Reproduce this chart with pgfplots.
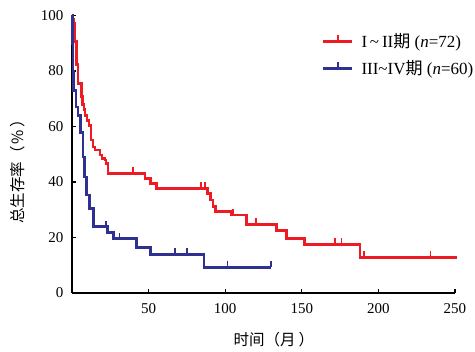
\documentclass[border=0pt]{standalone}
\usepackage{fontspec}
\setmainfont{Liberation Serif}
\newfontfamily\cjk{Noto Sans CJK SC}
\usepackage{pgfplots}
\pgfplotsset{compat=1.18}
\definecolor{kmred}{HTML}{ED1C24}
\definecolor{kmblue}{HTML}{2E3192}
\pgfdeclareplotmark{cens}{\pgfpathmoveto{\pgfqpoint{0pt}{0pt}}\pgfpathlineto{\pgfqpoint{0pt}{6pt}}\pgfusepathqstroke}
\begin{document}
\begin{tikzpicture}
\useasboundingbox (-72pt,-59pt) rectangle (403pt,293pt);
\begin{axis}[
  scale only axis, width=383pt, height=277.5pt,
  xmin=0, xmax=250, ymin=0, ymax=100,
  axis lines*=left,
  xtick={50,100,...,250}, ytick={0,20,...,100},
  tick align=inside, major tick length=4pt,
  every tick/.style={black, line width=1.2pt},
  axis line style={line width=1.3pt, black},
  tick label style={font=\fontsize{15}{15}\selectfont},
  xticklabel style={yshift=-7pt},
  yticklabel style={xshift=-5pt},
  /pgf/number format/assume math mode=true,
  xlabel={\cjk 时间（月\hspace{3pt}）},
  ylabel={\cjk 总生存率（\hspace{2pt}\%\hspace{2pt}）},
  label style={font=\fontsize{15.5}{15.5}\selectfont},
  xlabel style={at={(axis description cs:0.527,-0.169)}, anchor=center},
  ylabel style={at={(axis description cs:-0.141,0.45)}, anchor=center},
  clip=false,
  legend style={draw=none, fill=none, at={(axis description cs:0.652,0.943)}, anchor=north west,
    font=\fontsize{17}{17}\selectfont, row sep=7.5pt, inner sep=0pt},
  legend cell align=left,
]
\addplot[kmred, line width=2.8pt, const plot, forget plot] coordinates {
(0,100) (0.5,98.6) (1,97.2) (1.4,94.4) (1.8,90.6) (2.8,82.2) (3.9,75.6) (6.0,70.7) (7.0,68) (7.8,66)
(8.5,64.1) (9.8,62.3) (11.1,60.5) (12.4,55.1) (13.7,52.6) (15,51.5) (18.3,49.7) (19.6,48.6) (21.5,47.9)
(22.2,46.8) (23.5,43.1) (47.6,41.3) (51.5,39.5) (55,37.7) (88.5,35.9) (90.5,33.5) (92,31.1) (93.5,29.3)
(104.2,28.1) (114,24.7) (133.6,22.5) (140,19.7) (152,17.5) (188,12.9) (251,12.9)
};
\addplot[kmred, only marks, mark=cens, mark options={line width=1.6pt}, forget plot] coordinates {
(40,43.1) (84.2,37.7) (87,37.7) (105,28.1) (120,24.7) (171.7,17.5) (176,17.5) (190.6,12.9) (234,12.9)
};
\addplot[kmblue, line width=2.8pt, const plot, forget plot] coordinates {
(0,100) (0.3,90) (0.6,80) (0.9,73) (2.6,67) (3.9,64.1) (5.7,57.7) (7.2,49) (8.3,41.8) (9.3,35.3)
(11.6,30.5) (14,23.9) (23.3,21.9) (27,19.6) (42.2,16.5) (51.5,13.9) (86.2,9.3) (130,9.3)
};
\addplot[kmblue, only marks, mark=cens, mark options={line width=1.6pt}, forget plot] coordinates {
(22,23.9) (31,19.6) (67.2,13.9) (75,13.9) (101.4,9.3) (130,9.3)
};
\addlegendimage{kmred, legend image code/.code={\draw[line width=2.8pt] (0pt,0pt) -- (29pt,0pt); \draw[line width=1.6pt] (14.5pt,0pt) -- (14.5pt,6pt); \path (36pt,0pt);}}
\addlegendentry{I\,\textasciitilde\,II{\cjk 期} (\textit{n}=72)}
\addlegendimage{kmblue, legend image code/.code={\draw[line width=2.8pt] (0pt,0pt) -- (29pt,0pt); \draw[line width=1.6pt] (14.5pt,0pt) -- (14.5pt,6pt); \path (36pt,0pt);}}
\addlegendentry{III\textasciitilde IV{\cjk 期} (\textit{n}=60)}
\end{axis}
\end{tikzpicture}
\end{document}
